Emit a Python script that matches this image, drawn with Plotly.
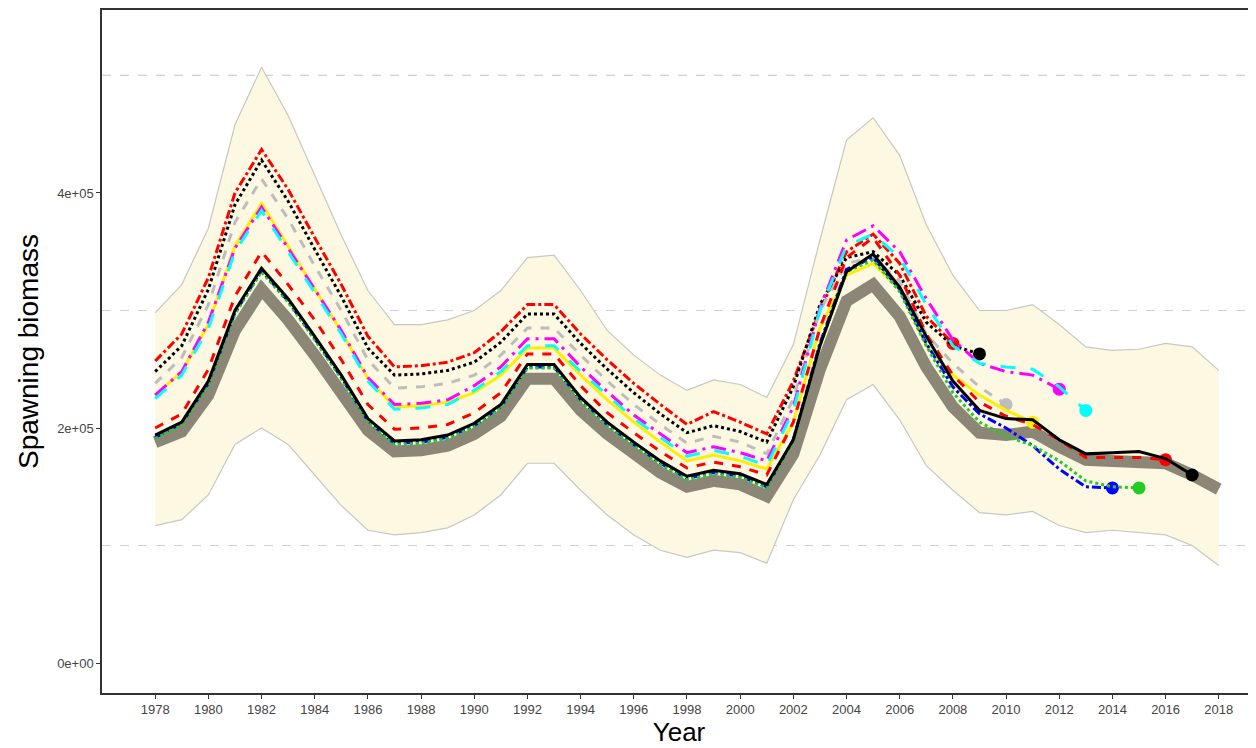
import plotly.graph_objects as go

years = list(range(1978, 2019))
base = [188,197,228,283,318,292,262,230,198,180,181,185,195,210,242,242,215,195,178,162,150,155,152,142,178,250,308,322,295,252,218,196,194,197,184,173,172,172,170,160,148]
ci_hi = [298,322,370,458,507,466,415,364,317,288,288,292,300,317,345,347,317,283,262,245,232,241,237,226,271,360,445,464,432,373,330,300,300,305,288,269,266,267,272,269,249]
ci_lo = [117,122,143,186,200,186,160,134,113,109,111,115,126,143,170,170,147,126,109,96,90,96,94,85,139,177,224,237,207,168,147,128,126,129,117,111,113,111,109,100,83]

r2017 = [194,205,240,300,336,310,278,245,208,189,190,194,204,220,254,254,226,205,188,172,159,164,161,152,190,270,333,348,320,278,240,215,208,207,190,178,179,180,174,160]
r2016 = [200,212,250,312,350,322,292,258,220,199,200,203,213,230,263,263,236,213,196,180,166,171,167,160,205,285,345,362,330,280,245,222,210,203,190,175,175,175,173]
r2015 = [191,203,237,297,333,307,275,242,205,186,187,191,201,217,251,251,223,202,185,169,156,161,158,149,189,270,333,343,316,270,230,205,193,185,172,155,150,149]
r2014 = [192,204,238,298,334,308,276,243,206,187,188,192,202,218,252,252,224,203,186,170,157,162,159,150,190,272,335,345,318,272,235,212,200,185,165,150,149]
r2013 = [225,245,285,350,385,350,315,280,240,216,217,220,232,248,270,270,248,228,208,192,176,181,176,168,215,300,355,365,345,305,270,255,252,250,235,215]
r2012 = [228,248,290,353,388,353,318,283,243,220,221,224,236,252,276,276,252,231,211,195,179,184,179,172,218,302,360,372,350,310,275,255,248,245,233]
r2011 = [228,248,288,355,391,355,318,282,242,218,219,222,230,245,268,268,245,224,205,188,172,177,172,165,205,285,330,340,318,270,245,228,215,205]
r2010 = [238,260,305,375,412,378,338,300,258,234,235,238,245,262,285,285,262,240,220,203,187,193,188,178,225,300,340,345,325,280,255,235,220]
r2009 = [248,270,318,390,428,393,352,312,268,245,246,249,256,273,297,297,272,250,230,212,196,202,197,188,235,305,345,350,330,290,270,263]
r2008 = [257,280,328,400,437,403,362,322,278,252,253,256,264,282,305,305,280,258,238,220,203,214,205,195,240,300,350,365,340,295,272]

K = 1000
fig = go.Figure()
fig.add_trace(go.Scatter(x=years, y=[v*K for v in ci_hi], mode="lines",
                         line=dict(color="#c8c8c0", width=1.2), showlegend=False))
fig.add_trace(go.Scatter(x=years, y=[v*K for v in ci_lo], mode="lines", fill="tonexty",
                         fillcolor="#fcf8e2", line=dict(color="#c8c8c0", width=1.2), showlegend=False))
fig.add_trace(go.Scatter(x=years, y=[v*K for v in base], mode="lines",
                         line=dict(color="#8c8676", width=12), showlegend=False))

peels = [
    (r2008, "red", "dashdot"),
    (r2009, "black", "dot"),
    (r2010, "#bdbdbd", "dash"),
    (r2011, "#ffee00", "solid"),
    (r2012, "magenta", "longdashdot"),
    (r2013, "cyan", "longdash"),
    (r2014, "blue", "dashdot"),
    (r2015, "#22cc22", "dot"),
    (r2016, "red", "dash"),
    (r2017, "black", "solid"),
]
for vals, col, dash in peels:
    yrs = years[:len(vals)]
    fig.add_trace(go.Scatter(x=yrs, y=[v*K for v in vals], mode="lines",
                             line=dict(color=col, width=3, dash=dash), showlegend=False))
    fig.add_trace(go.Scatter(x=[yrs[-1]], y=[vals[-1]*K], mode="markers",
                             marker=dict(color=col, size=13), showlegend=False))

for yv in [1e5, 3e5, 5e5]:
    fig.add_shape(type="line", xref="paper", x0=0, x1=1, y0=yv, y1=yv,
                  line=dict(color="#d0d0d0", width=1.2, dash="dash"), layer="below")

fig.update_layout(
    width=1248, height=740, plot_bgcolor="white", paper_bgcolor="white",
    margin=dict(l=94, r=0, t=2, b=55),
    font=dict(family="Liberation Sans, Arial, sans-serif"),
)
fig.update_xaxes(range=[1976.0, 2019.4], tickvals=list(range(1978, 2019, 2)), automargin=False,
                 showgrid=False, zeroline=False, showline=True, linecolor="#333", linewidth=1.5,
                 mirror=True, ticks="outside", ticklen=4, tickcolor="#333",
                 tickfont=dict(size=13, color="#444"),
                 title=dict(text="Year", font=dict(size=26, color="black"), standoff=0))
fig.update_yaxes(range=[-25500, 555700], tickvals=[0, 2e5, 4e5], automargin=False,
                 ticktext=["0e+00", "2e+05", "4e+05"],
                 showgrid=False, zeroline=False, showline=True, linecolor="#333", linewidth=1.5,
                 mirror=True, ticks="outside", ticklen=4, tickcolor="#333",
                 tickfont=dict(size=13, color="#444"),
                 title=dict(text="Spawning biomass", font=dict(size=28, color="black"), standoff=10))
fig.write_html("out.html")
